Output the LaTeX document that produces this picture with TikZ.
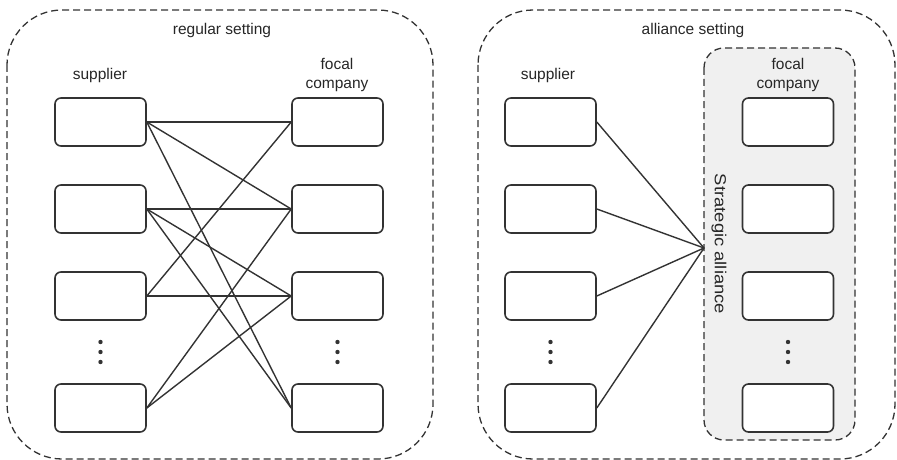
\documentclass[tikz,border=0pt]{standalone}
\usepackage{fontspec}
\setmainfont{Liberation Sans}
\begin{document}
\begin{tikzpicture}[x=1pt,y=-1pt,
  ink/.style={draw=black!80, line width=1.6pt},
  firm/.style={ink, rounded corners=6pt, minimum width=91pt, minimum height=48pt, inner sep=0pt},
  frame/.style={draw=black!80, line width=1.3pt, dash pattern=on 7pt off 4pt},
  link/.style={draw=black!80, line width=1.4pt},
  lbl/.style={font=\fontsize{15.5}{19}\selectfont, text=black!85, align=center, inner sep=0pt},
  dot/.style={circle, fill=black!80, minimum size=4.4pt, inner sep=0pt}]
\useasboundingbox (0,0) rectangle (897,460);

% ---------- regular setting ----------
\draw[frame, rounded corners=55pt] (7,10) rectangle (433,459);
\node[lbl] (t1) at (222,30) {regular setting};
\node[lbl] (s1lab) at (100,75) {supplier};
\node[lbl] (f1lab) at (337,75) {focal\\company};

\foreach \i/\y in {1/122,2/209,3/296,4/408}{
  \node[firm] (ls\i) at (100.5,\y) {};
  \node[firm] (lf\i) at (337.5,\y) {};
}
\foreach \p in {ls,lf}{
  \path (\p3.south) -- (\p4.north) coordinate[pos=0.5] (\p m);
  \node[dot] at ([yshift=-10pt]\p m) {};
  \node[dot] at (\p m) {};
  \node[dot] at ([yshift=10pt]\p m) {};
}
\foreach \a/\b in {1/1,1/2,1/4,2/2,2/3,2/4,3/1,3/3,4/2,4/3}{
  \draw[link] (ls\a.east) -- (lf\b.west);
}

% ---------- alliance setting ----------
\draw[frame, rounded corners=55pt] (478,10) rectangle (895,459);
\draw[frame, fill=black!6, rounded corners=20pt] (704,48) rectangle (855,440);
\node[lbl] (t2) at (693,30) {alliance setting};
\node[lbl] (s2lab) at (548,75) {supplier};
\node[lbl] (f2lab) at (788,75) {focal\\company};
\node[lbl, font=\fontsize{16}{18}\selectfont, rotate=-90] (sa) at (719,244)
  {\scalebox{1.15}[1]{Strategic alliance}};
\coordinate (hub) at (704,248);

\foreach \i/\y in {1/122,2/209,3/296,4/408}{
  \node[firm, fill=white] (rs\i) at (550.5,\y) {};
  \node[firm, fill=white] (rf\i) at (788,\y) {};
  \draw[link] (rs\i.east) -- (hub);
}
\foreach \p in {rs,rf}{
  \path (\p3.south) -- (\p4.north) coordinate[pos=0.5] (\p m);
  \node[dot] at ([yshift=-10pt]\p m) {};
  \node[dot] at (\p m) {};
  \node[dot] at ([yshift=10pt]\p m) {};
}
\end{tikzpicture}
\end{document}
